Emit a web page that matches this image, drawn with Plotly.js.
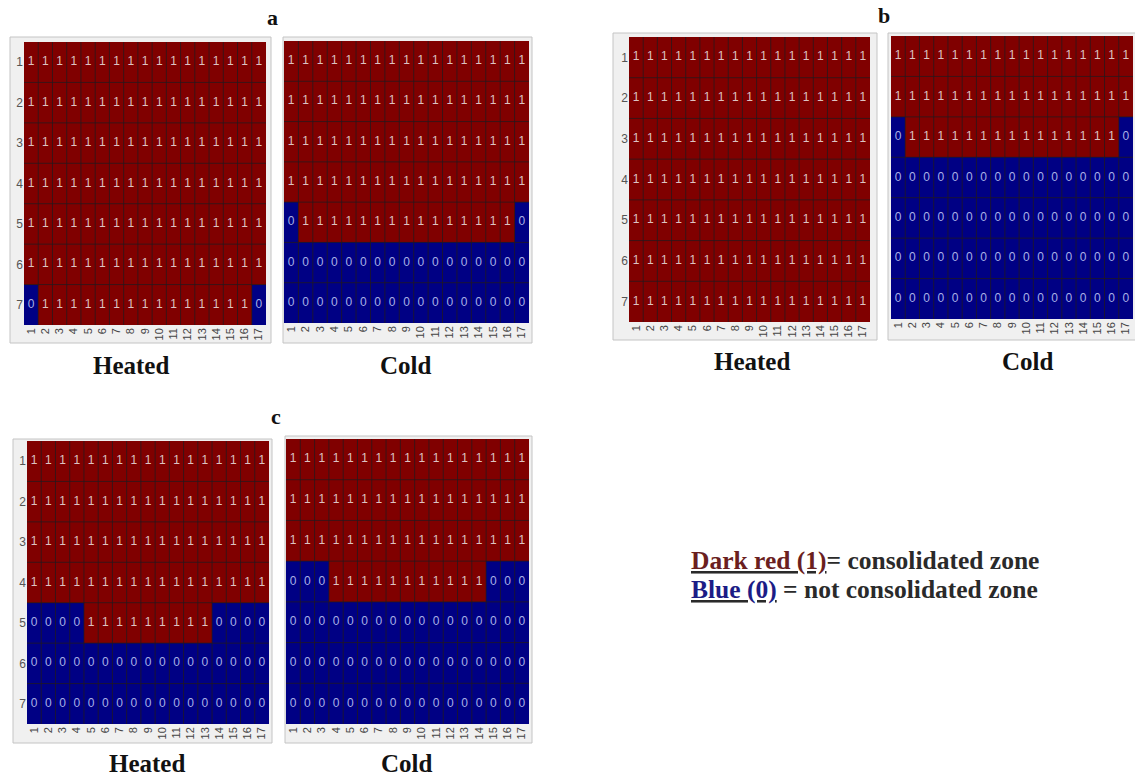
<!DOCTYPE html>
<html>
<head>
<meta charset="utf-8">
<script src="https://cdn.plot.ly/plotly-3.0.1.min.js"></script>
<style>html,body{margin:0;padding:0;background:#fff;}#chart{width:1135px;height:775px;}</style>
</head>
<body>
<div id="chart"></div>
<script>
const colLabels = ['1','2','3','4','5','6','7','8','9','10','11','12','13','14','15','16','17'];
const rowLabels = ['1','2','3','4','5','6','7'];
const colNums = [1,2,3,4,5,6,7,8,9,10,11,12,13,14,15,16,17];
const rowNums = [1,2,3,4,5,6,7];

const aHeated = [
  [1,1,1,1,1,1,1,1,1,1,1,1,1,1,1,1,1],
  [1,1,1,1,1,1,1,1,1,1,1,1,1,1,1,1,1],
  [1,1,1,1,1,1,1,1,1,1,1,1,1,1,1,1,1],
  [1,1,1,1,1,1,1,1,1,1,1,1,1,1,1,1,1],
  [1,1,1,1,1,1,1,1,1,1,1,1,1,1,1,1,1],
  [1,1,1,1,1,1,1,1,1,1,1,1,1,1,1,1,1],
  [0,1,1,1,1,1,1,1,1,1,1,1,1,1,1,1,0]
];
const aCold = [
  [1,1,1,1,1,1,1,1,1,1,1,1,1,1,1,1,1],
  [1,1,1,1,1,1,1,1,1,1,1,1,1,1,1,1,1],
  [1,1,1,1,1,1,1,1,1,1,1,1,1,1,1,1,1],
  [1,1,1,1,1,1,1,1,1,1,1,1,1,1,1,1,1],
  [0,1,1,1,1,1,1,1,1,1,1,1,1,1,1,1,0],
  [0,0,0,0,0,0,0,0,0,0,0,0,0,0,0,0,0],
  [0,0,0,0,0,0,0,0,0,0,0,0,0,0,0,0,0]
];
const bHeated = [
  [1,1,1,1,1,1,1,1,1,1,1,1,1,1,1,1,1],
  [1,1,1,1,1,1,1,1,1,1,1,1,1,1,1,1,1],
  [1,1,1,1,1,1,1,1,1,1,1,1,1,1,1,1,1],
  [1,1,1,1,1,1,1,1,1,1,1,1,1,1,1,1,1],
  [1,1,1,1,1,1,1,1,1,1,1,1,1,1,1,1,1],
  [1,1,1,1,1,1,1,1,1,1,1,1,1,1,1,1,1],
  [1,1,1,1,1,1,1,1,1,1,1,1,1,1,1,1,1]
];
const bCold = [
  [1,1,1,1,1,1,1,1,1,1,1,1,1,1,1,1,1],
  [1,1,1,1,1,1,1,1,1,1,1,1,1,1,1,1,1],
  [0,1,1,1,1,1,1,1,1,1,1,1,1,1,1,1,0],
  [0,0,0,0,0,0,0,0,0,0,0,0,0,0,0,0,0],
  [0,0,0,0,0,0,0,0,0,0,0,0,0,0,0,0,0],
  [0,0,0,0,0,0,0,0,0,0,0,0,0,0,0,0,0],
  [0,0,0,0,0,0,0,0,0,0,0,0,0,0,0,0,0]
];
const cHeated = [
  [1,1,1,1,1,1,1,1,1,1,1,1,1,1,1,1,1],
  [1,1,1,1,1,1,1,1,1,1,1,1,1,1,1,1,1],
  [1,1,1,1,1,1,1,1,1,1,1,1,1,1,1,1,1],
  [1,1,1,1,1,1,1,1,1,1,1,1,1,1,1,1,1],
  [0,0,0,0,1,1,1,1,1,1,1,1,1,0,0,0,0],
  [0,0,0,0,0,0,0,0,0,0,0,0,0,0,0,0,0],
  [0,0,0,0,0,0,0,0,0,0,0,0,0,0,0,0,0]
];
const cCold = [
  [1,1,1,1,1,1,1,1,1,1,1,1,1,1,1,1,1],
  [1,1,1,1,1,1,1,1,1,1,1,1,1,1,1,1,1],
  [1,1,1,1,1,1,1,1,1,1,1,1,1,1,1,1,1],
  [0,0,0,1,1,1,1,1,1,1,1,1,1,1,0,0,0],
  [0,0,0,0,0,0,0,0,0,0,0,0,0,0,0,0,0],
  [0,0,0,0,0,0,0,0,0,0,0,0,0,0,0,0,0],
  [0,0,0,0,0,0,0,0,0,0,0,0,0,0,0,0,0]
];

const panelLetters = ['a','b','c'];
const panelNames = ['Heated','Cold'];
const legendLines = ['Dark red (1)', '= consolidated zone', 'Blue (0)', ' = not consolidated zone'];

const W = 1135, H = 775;
const px = v => v / W;
const py = v => 1 - v / H;

const panels = [
  {z: aHeated, cell:[24,266,42,325], frame:[10,271,37,343], ylab:true,  name:[131,365]},
  {z: aCold,   cell:[284,529,41,323], frame:[283,532,37,343], ylab:false, name:[406,365]},
  {z: bHeated, cell:[629,870,37,322], frame:[613,877,33,340], ylab:true,  name:[752,362]},
  {z: bCold,   cell:[891,1133,36,319], frame:[888,1136,33,340], ylab:false, name:[1028,362]},
  {z: cHeated, cell:[27,269,441,724], frame:[13,272,439,743], ylab:true,  name:[147,763]},
  {z: cCold,   cell:[286,529,439,724], frame:[285,532,436,743], ylab:false, name:[407,763]}
];
const letterPos = [[272,18],[884,16],[276,416]];

const data = [];
const layout = {
  width: W, height: H,
  margin: {l:0, r:0, t:0, b:0},
  paper_bgcolor: '#ffffff',
  plot_bgcolor: '#800000',
  showlegend: false,
  shapes: [],
  annotations: []
};
const gridColor = 'rgba(35,25,30,0.75)';

panels.forEach((p, i) => {
  const n = i + 1;
  const xa = n === 1 ? 'x' : 'x' + n;
  const ya = n === 1 ? 'y' : 'y' + n;
  data.push({
    type: 'heatmap',
    z: p.z,
    x: colNums,
    y: rowNums,
    xaxis: xa, yaxis: ya,
    colorscale: [[0, '#000084'], [1, '#800000']],
    zmin: 0, zmax: 1,
    showscale: false,
    hoverinfo: 'skip'
  });
  const tx = [], ty = [], tt = [], tc = [];
  p.z.forEach((row, r) => row.forEach((v, c) => {
    tx.push(colNums[c]); ty.push(rowNums[r]); tt.push(String(v));
    tc.push(v === 1 ? '#dcc3c3' : '#a9b1e4');
  }));
  data.push({
    type: 'scatter', mode: 'text',
    x: tx, y: ty, text: tt,
    xaxis: xa, yaxis: ya,
    textposition: 'middle center',
    textfont: {family: 'Liberation Sans, Arial, sans-serif', size: 12, color: tc},
    hoverinfo: 'skip'
  });
  const xkey = n === 1 ? 'xaxis' : 'xaxis' + n;
  const ykey = n === 1 ? 'yaxis' : 'yaxis' + n;
  layout[xkey] = {
    domain: [px(p.cell[0]), px(p.cell[1])],
    anchor: ya,
    range: [0.5, 17.5],
    tickvals: colNums,
    ticktext: colLabels,
    tickangle: -90,
    ticks: '',
    showgrid: false, zeroline: false, showline: false,
    tickfont: {family: 'Liberation Sans, Arial, sans-serif', size: 11, color: '#444'},
    fixedrange: true
  };
  layout[ykey] = {
    domain: [py(p.cell[3]), py(p.cell[2])],
    anchor: xa,
    range: [7.5, 0.5],
    tickvals: rowNums,
    ticktext: rowLabels,
    showticklabels: p.ylab,
    ticks: '',
    showgrid: false, zeroline: false, showline: false,
    tickfont: {family: 'Liberation Sans, Arial, sans-serif', size: 12, color: '#555'},
    fixedrange: true
  };
  layout.shapes.push({
    type: 'rect', xref: 'paper', yref: 'paper', layer: 'below',
    x0: px(p.frame[0]), x1: px(p.frame[1]), y0: py(p.frame[3]), y1: py(p.frame[2]),
    fillcolor: '#f0f0f0', line: {color: '#c4c4c4', width: 1}
  });
  // cell boundary lines between columns and rows
  colNums.slice(0, -1).forEach(c => {
    layout.shapes.push({
      type: 'line', xref: xa, yref: ya + ' domain', layer: 'above',
      x0: c + 0.5, x1: c + 0.5, y0: 0, y1: 1,
      line: {color: gridColor, width: 1}
    });
  });
  rowNums.slice(0, -1).forEach(r => {
    layout.shapes.push({
      type: 'line', xref: xa + ' domain', yref: ya, layer: 'above',
      x0: 0, x1: 1, y0: r + 0.5, y1: r + 0.5,
      line: {color: gridColor, width: 1}
    });
  });
  layout.annotations.push({
    xref: 'paper', yref: 'paper', x: px(p.name[0]), y: py(p.name[1]),
    xanchor: 'center', yanchor: 'middle', showarrow: false,
    text: '<b>' + panelNames[i % 2] + '</b>',
    font: {family: 'Liberation Serif, Times New Roman, serif', size: 25, color: '#111'}
  });
});

letterPos.forEach((lp, i) => {
  layout.annotations.push({
    xref: 'paper', yref: 'paper', x: px(lp[0]), y: py(lp[1]),
    xanchor: 'center', yanchor: 'middle', showarrow: false,
    text: '<b>' + panelLetters[i] + '</b>',
    font: {family: 'Liberation Serif, Times New Roman, serif', size: 22, color: '#111'}
  });
});

layout.annotations.push({
  xref: 'paper', yref: 'paper', x: px(689), y: py(560),
  xanchor: 'left', yanchor: 'middle', showarrow: false,
  text: '<b><u><span style="color:#6b1f1f">' + legendLines[0] + '</span></u>' + legendLines[1] + '</b>',
  font: {family: 'Liberation Serif, Times New Roman, serif', size: 25.5, color: '#2a2a2a'}
});
layout.annotations.push({
  xref: 'paper', yref: 'paper', x: px(689), y: py(589),
  xanchor: 'left', yanchor: 'middle', showarrow: false,
  text: '<b><u><span style="color:#1c1c86">' + legendLines[2] + '</span></u>' + legendLines[3] + '</b>',
  font: {family: 'Liberation Serif, Times New Roman, serif', size: 25.5, color: '#2a2a2a'}
});

Plotly.newPlot('chart', data, layout, {displayModeBar: false, staticPlot: true});
</script>
</body>
</html>
